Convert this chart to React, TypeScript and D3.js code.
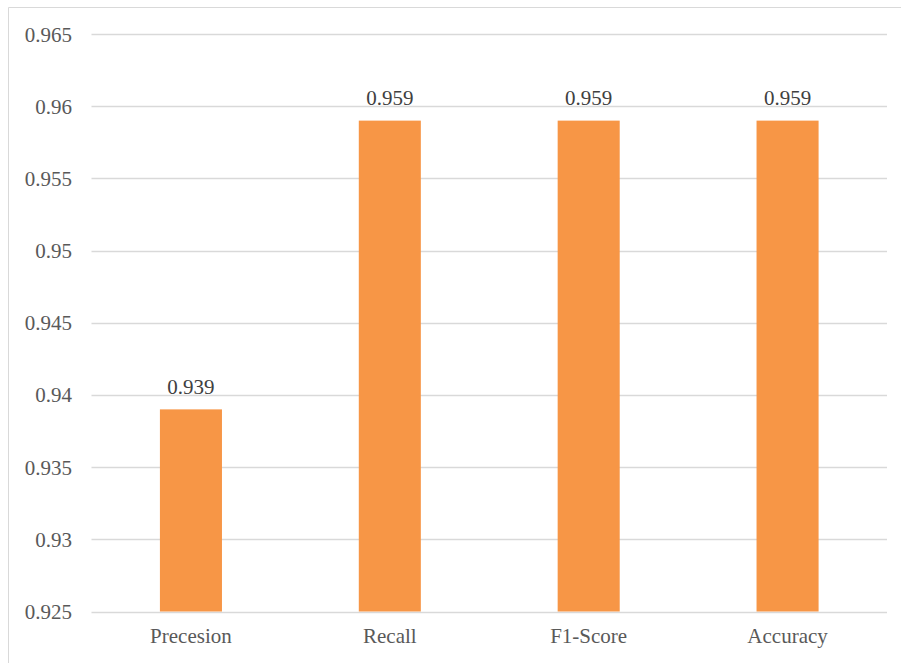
import React from "react";
import * as d3 from "d3";

const categories = ["Precesion", "Recall", "F1-Score", "Accuracy"];
const values = [0.939, 0.959, 0.959, 0.959];
const yTicks = [0.925, 0.93, 0.935, 0.94, 0.945, 0.95, 0.955, 0.96, 0.965];
const yTickLabels = ["0.925", "0.93", "0.935", "0.94", "0.945", "0.95", "0.955", "0.96", "0.965"];
const valueLabels = ["0.939", "0.959", "0.959", "0.959"];

export default function App() {
  const W = 901, H = 663;
  const left = 91.5, right = 887, top = 34, bottom = 611.5;
  const x = d3.scaleBand<string>().domain(categories).range([left, right]).paddingInner(0.688).paddingOuter(0.344);
  const y = d3.scaleLinear().domain([0.925, 0.965]).range([bottom, top]);
  const font = "'Liberation Serif', 'Times New Roman', serif";
  const textColor = "#595959";
  const ts: React.CSSProperties = { fontFamily: font, fontSize: "21px" };
  return (
    <svg width={W} height={H} style={{ position: "absolute", left: 0, top: 0, background: "#fff" }}>
      <rect x={0} y={0} width={W} height={H} fill="#fff" />
      <line x1={8.5} y1={7.5} x2={W} y2={7.5} stroke="#d9d9d9" strokeWidth={1} />
      <line x1={8.5} y1={7.5} x2={8.5} y2={H} stroke="#d9d9d9" strokeWidth={1} />
      {yTicks.map((t, i) => (
        <g key={i}>
          <line x1={left} x2={right} y1={Math.round(y(t)) + 0.5} y2={Math.round(y(t)) + 0.5} stroke="#d9d9d9" strokeWidth={1.3} />
          <text x={72} y={y(t) + 7.5} textAnchor="end" style={ts} fill={textColor}>{yTickLabels[i]}</text>
        </g>
      ))}
      {categories.map((c, i) => (
        <g key={c}>
          <rect x={x(c)} y={y(values[i])} width={x.bandwidth()} height={y(0.925) - y(values[i])} fill="#F79646" />
          <text x={(x(c) as number) + x.bandwidth() / 2} y={y(values[i]) - 15.5} textAnchor="middle" style={ts} fill="#404040">{valueLabels[i]}</text>
          <text x={(x(c) as number) + x.bandwidth() / 2} y={643} textAnchor="middle" style={ts} fill={textColor}>{c}</text>
        </g>
      ))}
    </svg>
  );
}
